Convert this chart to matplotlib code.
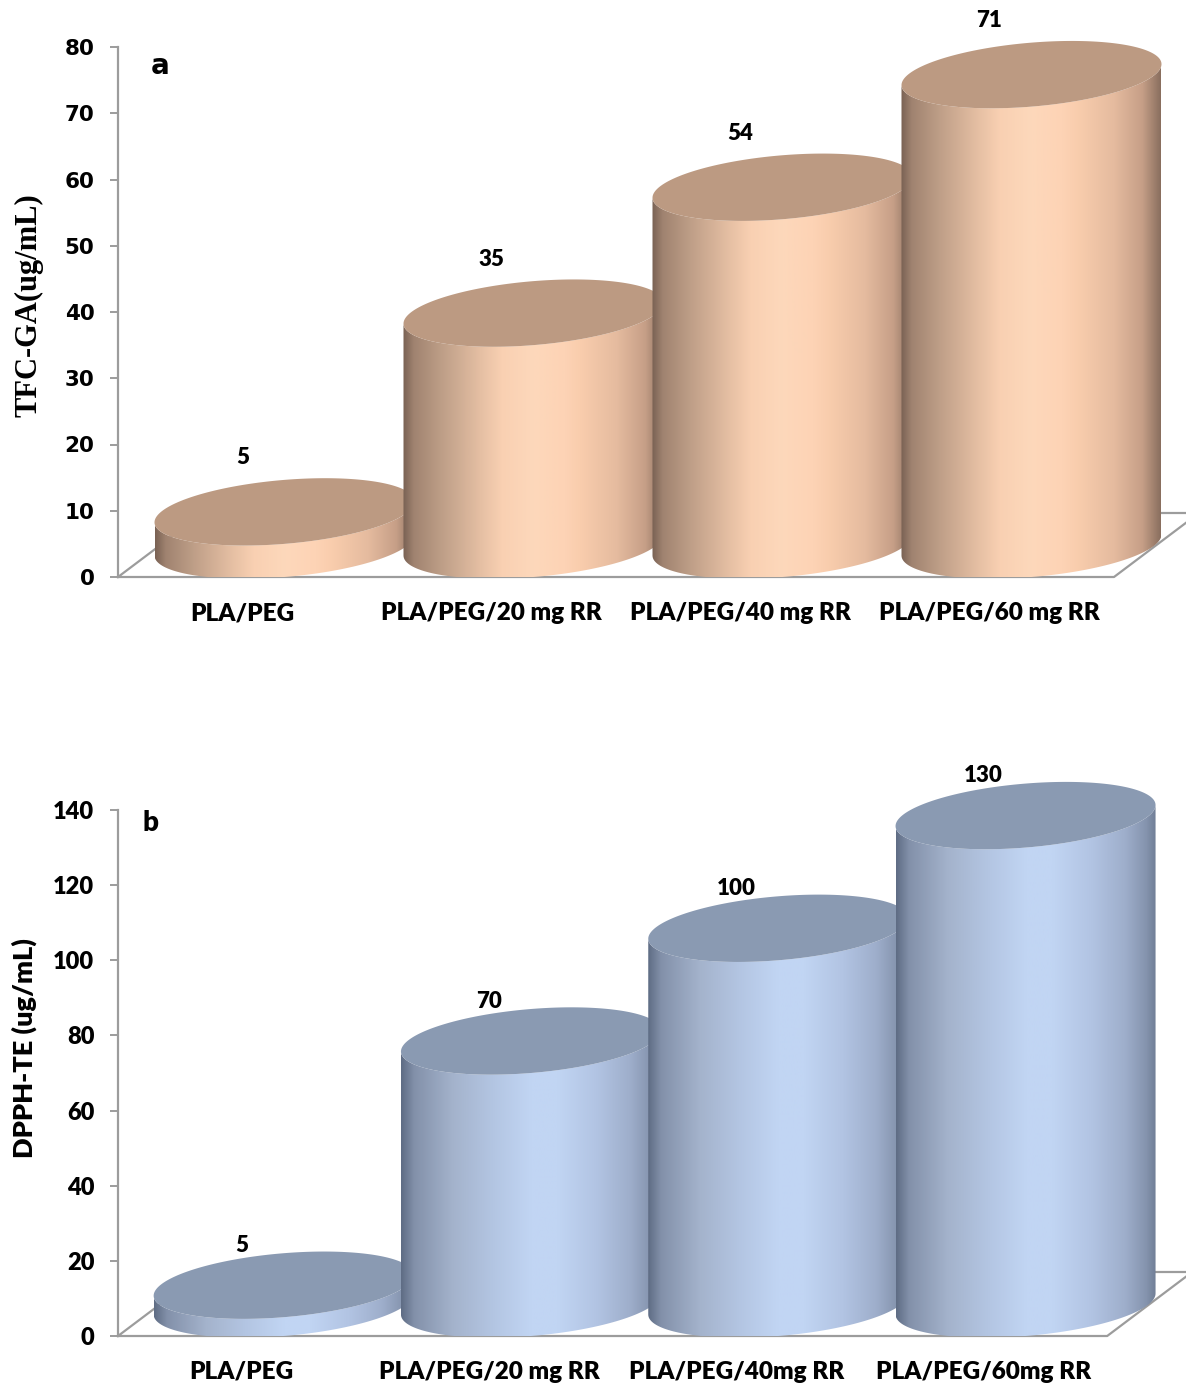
import numpy as np
import matplotlib.pyplot as plt
from matplotlib.patches import Polygon
from matplotlib.colors import LinearSegmentedColormap

W, H, DPI = 1186, 1385, 100

cats_a = ["PLA/PEG", "PLA/PEG/20 mg RR", "PLA/PEG/40 mg RR", "PLA/PEG/60 mg RR"]
tfc_vals = [5, 35, 54, 71]
ticks_a = [0, 10, 20, 30, 40, 50, 60, 70, 80]

cats_b = ["PLA/PEG", "PLA/PEG/20 mg RR", "PLA/PEG/40mg RR", "PLA/PEG/60mg RR"]
dpph_vals = [5, 70, 100, 130]
ticks_b = [0, 20, 40, 60, 80, 100, 120, 140]

GREY = "#9c9c9c"

peach = LinearSegmentedColormap.from_list("peach", [
    (0.0, "#7a6254"), (0.04, "#a08370"), (0.15, "#bf9f88"), (0.3, "#e6c0a4"),
    (0.38, "#f9d0b2"), (0.5, "#fdd8bb"), (0.62, "#fdd3b5"), (0.68, "#f9cdad"),
    (0.82, "#e5bb9f"), (0.93, "#c69f87"), (1.0, "#8a6f5f")])
blue = LinearSegmentedColormap.from_list("blue", [
    (0.0, "#5f6d85"), (0.05, "#8391aa"), (0.2, "#a4b3cc"), (0.35, "#b3c5e2"),
    (0.5, "#c1d5f3"), (0.6, "#c1d5f3"), (0.75, "#b2c4e3"), (0.88, "#9eaecb"),
    (0.96, "#8594ae"), (1.0, "#6f7d95")])


def cylinder(ax, x, v, px, py, cmap, top_color, z):
    # px, py: pixels per data unit
    a = 130 / px
    b = 32 / py
    s = 10.5 / py
    cx = x + 42 / px
    y0 = 32 / py
    y1 = y0 + v
    t = np.linspace(np.pi, 2 * np.pi, 100)
    xs = cx + a * np.cos(t)
    bot = y0 + s * np.cos(t) + b * np.sin(t)
    top = y1 + s * np.cos(t) + b * np.sin(t)
    verts = np.vstack([np.column_stack([xs, bot]),
                       np.column_stack([xs[::-1], top[::-1]])])
    side = Polygon(verts, closed=True, facecolor="none", edgecolor="none")
    ax.add_patch(side)
    grad = np.linspace(0, 1, 256).reshape(1, -1)
    im = ax.imshow(grad, cmap=cmap, aspect="auto", origin="lower",
                   extent=[cx - a, cx + a, y0 - b - s, y1 + b + s],
                   interpolation="bilinear", zorder=z)
    im.set_clip_path(side)
    tt = np.linspace(0, 2 * np.pi, 200)
    ell = np.column_stack([cx + a * np.cos(tt), y1 + s * np.cos(tt) + b * np.sin(tt)])
    ax.add_patch(Polygon(ell, closed=True, facecolor=top_color,
                         edgecolor="none", zorder=z + 0.5))


def panel(fig, y0px, ytpx, ytop_px, cats, vals, ticks, pitch, cmap, top_color,
          lab_off, tick_font, tick_size):
    # axes from the y axis line (x=118 px) to the right edge
    ax = fig.add_axes([118 / W, (H - y0px) / H, (W - 118) / W, (y0px - ytop_px) / H])
    ymax = ticks[-1]
    py = (y0px - ytpx) / ymax
    n = len(cats)
    ddx = 85 / pitch
    ddy = 64 / py
    ax.plot([-0.5, n - 0.5, n - 0.5 + ddx, -0.5 + ddx, -0.5],
            [0, 0, ddy, ddy, 0], color=GREY, lw=1.6, zorder=1, clip_on=False)
    for i, v in enumerate(vals):
        cylinder(ax, i, v, pitch, py, cmap, top_color, 2 + 2 * i)
        ax.text(i, v + lab_off / py, str(v), ha="center", va="center",
                fontsize=16, fontweight="heavy", family="Lato", zorder=20)
    ax.set_xlim(-0.5, -0.5 + (W - 118) / pitch)
    ax.set_ylim(0, (y0px - ytop_px) / py)
    for sp in ["top", "right", "bottom"]:
        ax.spines[sp].set_visible(False)
    ax.spines["left"].set_color(GREY)
    ax.spines["left"].set_linewidth(1.6)
    ax.spines["left"].set_bounds(0, ymax)
    ax.set_yticks(ticks)
    ax.set_yticklabels([str(t) for t in ticks], family=tick_font,
                       fontsize=tick_size, fontweight="heavy")
    ax.tick_params(axis="y", length=6, width=1.4, color=GREY, pad=11)
    ax.set_xticks(range(n))
    ax.set_xticklabels(cats, family="Lato", fontsize=17.5, fontweight="heavy")
    ax.tick_params(axis="x", length=0, pad=18)
    return ax


fig = plt.figure(figsize=(W / DPI, H / DPI), dpi=DPI)

ax1 = panel(fig, 577, 47, 0, cats_a, tfc_vals, ticks_a, 249, peach, "#bc9a82",
            86, "DejaVu Sans", 15.5)
ax2 = panel(fig, 1336, 810, 700, cats_b, dpph_vals, ticks_b, 247.3, blue, "#8a9ab2",
            72, "Lato", 17)

ax1.set_ylabel("TFC-GA(ug/mL)", family="Liberation Serif", fontsize=22,
               fontweight="bold")
ax1.yaxis.set_label_coords(44 / W, 1 - 305 / H, transform=fig.transFigure)
ax2.set_ylabel("DPPH-TE (ug/mL)", family="Lato", fontsize=19.5, fontweight="heavy")
ax2.yaxis.set_label_coords(37 / W, 1 - 1048 / H, transform=fig.transFigure)

fig.text(160 / W, 1 - 66 / H, "a", ha="center", va="center",
         fontsize=20, fontweight="bold", family="DejaVu Sans")
fig.text(150 / W, 1 - 823 / H, "b", ha="center", va="center",
         fontsize=20, fontweight="heavy", family="Lato")

fig.savefig("out.png", dpi=DPI)
